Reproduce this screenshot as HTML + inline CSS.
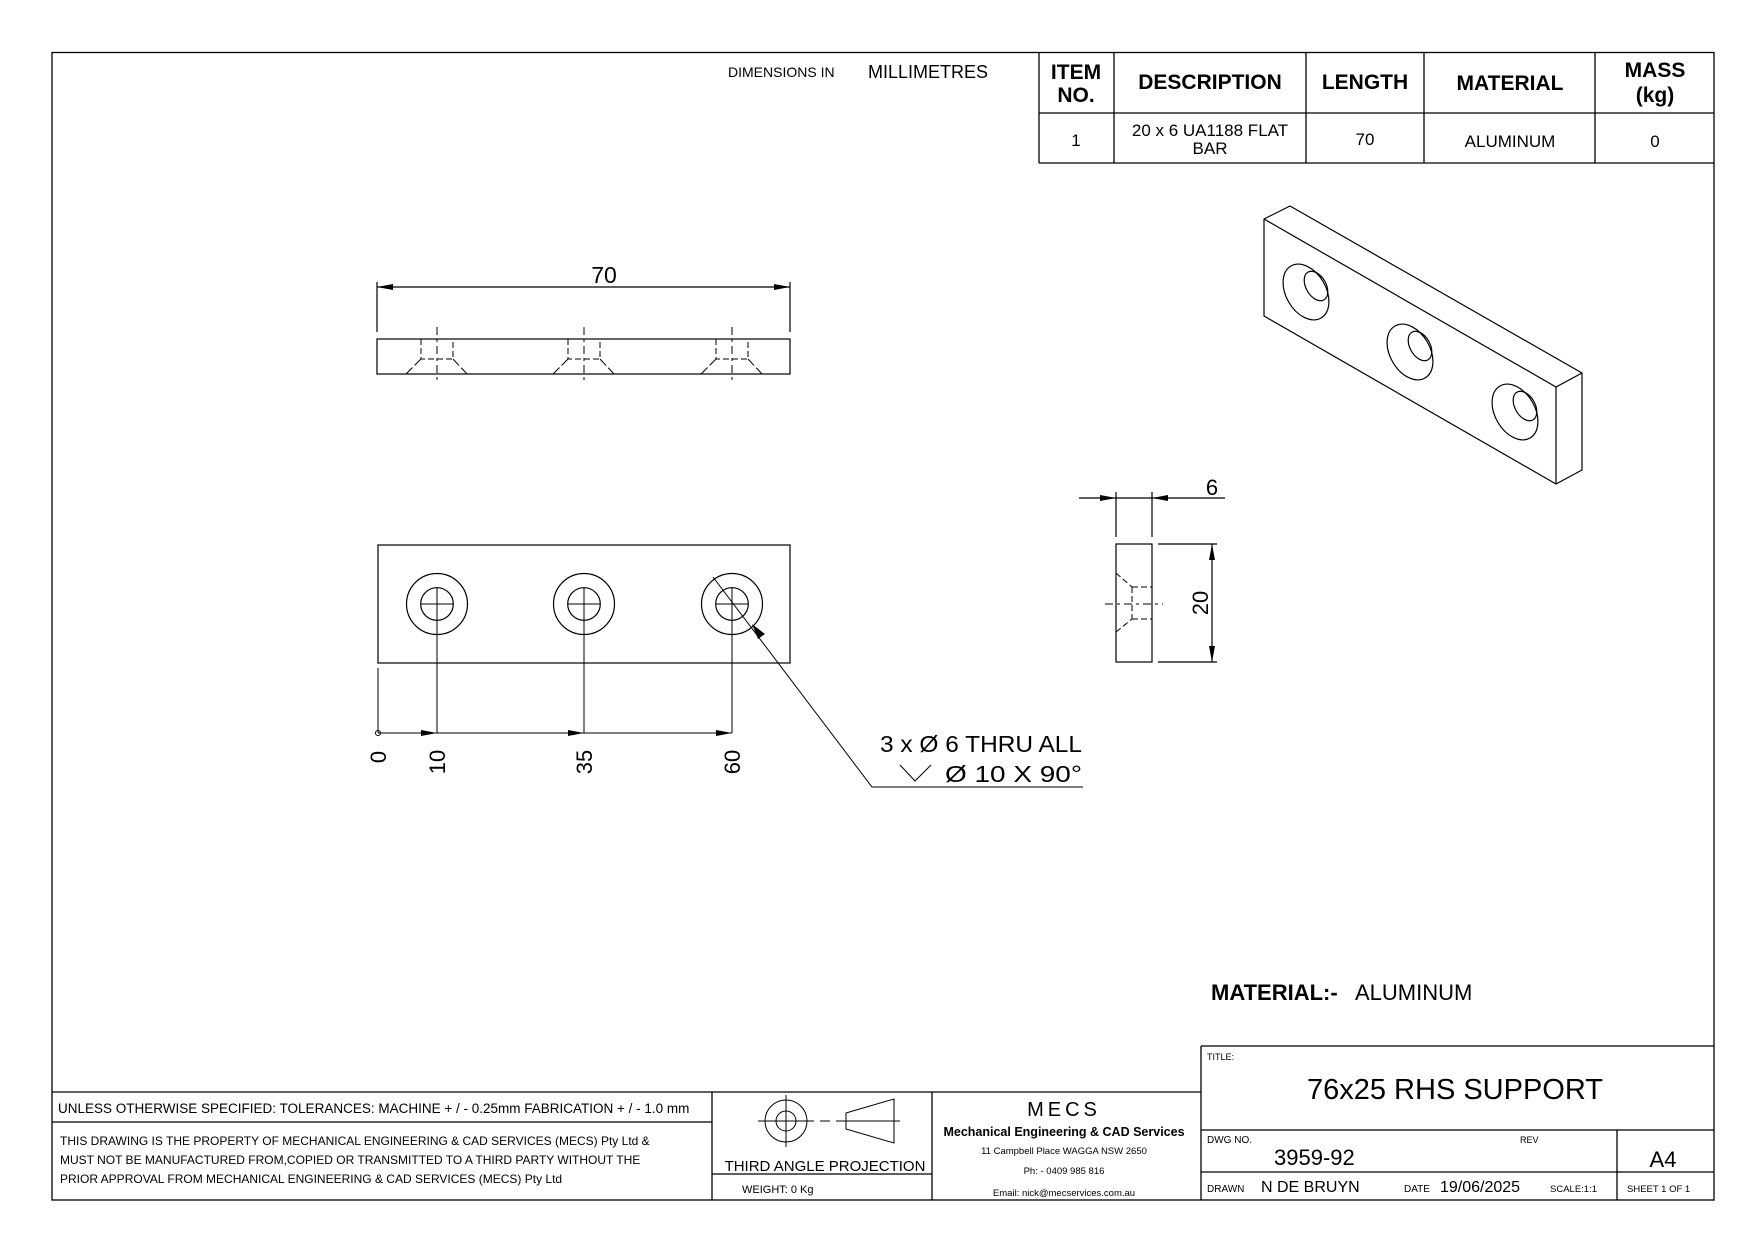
<!DOCTYPE html>
<html><head><meta charset="utf-8"><style>
html,body{margin:0;padding:0;background:#fff;}
svg{display:block}
text{font-family:"Liberation Sans",sans-serif;fill:#000}
</style></head><body>
<svg width="1753" height="1240" viewBox="0 0 1753 1240" xmlns="http://www.w3.org/2000/svg">
<g fill="none" stroke="#000" stroke-width="1.3">
<rect x="52" y="52.5" width="1662" height="1147.5"/>
<line x1="1039" y1="52.5" x2="1039" y2="163"/>
<line x1="1114" y1="52.5" x2="1114" y2="163"/>
<line x1="1306" y1="52.5" x2="1306" y2="163"/>
<line x1="1424" y1="52.5" x2="1424" y2="163"/>
<line x1="1595" y1="52.5" x2="1595" y2="163"/>
<line x1="1039" y1="113" x2="1714" y2="113"/>
<line x1="1039" y1="163" x2="1714" y2="163"/>
<line x1="1201" y1="1046" x2="1714" y2="1046"/>
<line x1="1201" y1="1046" x2="1201" y2="1200"/>
<line x1="52" y1="1092" x2="1201" y2="1092"/>
<line x1="52" y1="1122" x2="712" y2="1122"/>
<line x1="712" y1="1092" x2="712" y2="1200"/>
<line x1="932" y1="1092" x2="932" y2="1200"/>
<line x1="712" y1="1174" x2="932" y2="1174"/>
<line x1="1201" y1="1130" x2="1714" y2="1130"/>
<line x1="1201" y1="1172" x2="1714" y2="1172"/>
<line x1="1617" y1="1130" x2="1617" y2="1200"/>
</g>
<g stroke="#000" stroke-width="1" fill="none">
<circle cx="786" cy="1121" r="21"/>
<circle cx="786" cy="1121" r="10"/>
<line x1="758" y1="1121" x2="814" y2="1121"/>
<line x1="786" y1="1095" x2="786" y2="1147"/>
<line x1="820" y1="1121" x2="830" y2="1121"/>
<line x1="836" y1="1121" x2="900" y2="1121"/>
<polygon points="846,1113 894,1099 894,1143 846,1129"/>
</g>
<g font-weight="bold" font-size="21" text-anchor="middle">
<text x="1076" y="79">ITEM</text><text x="1076" y="102">NO.</text>
<text x="1210" y="89">DESCRIPTION</text>
<text x="1365" y="89">LENGTH</text>
<text x="1510" y="90">MATERIAL</text>
<text x="1655" y="77">MASS</text><text x="1655" y="102">(kg)</text>
</g>
<g font-size="17" text-anchor="middle">
<text x="1076" y="146">1</text>
<text x="1210" y="136">20 x 6 UA1188 FLAT</text><text x="1210" y="154">BAR</text>
<text x="1365" y="145">70</text>
<text x="1510" y="147">ALUMINUM</text>
<text x="1655" y="147">0</text>
</g>
<text x="728" y="77" font-size="14">DIMENSIONS IN</text>
<text x="868" y="78" font-size="18">MILLIMETRES</text>

<g stroke="#000" stroke-width="1.2" fill="none">
<rect x="377" y="339" width="413" height="35"/>
<line x1="377" y1="282" x2="377" y2="332"/>
<line x1="790" y1="282" x2="790" y2="332"/>
<line x1="377" y1="287" x2="790" y2="287"/>
</g>
<polygon points="377,287 393,284 393,290"/><polygon points="790,287 774,284 774,290"/>
<text x="604" y="283" font-size="23" text-anchor="middle">70</text>
<g stroke="#000" stroke-width="1" fill="none" stroke-dasharray="6,3">
<path d="M421,339V359H453V339 M568,339V359H600V339 M716,339V359H748V339"/>
<path d="M437,327V384 M584,327V384 M732,327V384" stroke-dasharray="8,4,3,4"/>
</g>
<g stroke="#000" stroke-width="1" stroke-dasharray="9,3">
<path d="M421,359L406,374 M453,359L467,374 M568,359L553,374 M600,359L614,374 M716,359L701,374 M748,359L762,374"/>
</g>

<g stroke="#000" stroke-width="1.2" fill="none">
<rect x="378" y="545" width="412" height="118"/>
<circle cx="437" cy="604" r="30.5"/><circle cx="437" cy="604" r="16.3"/>
<circle cx="584" cy="604" r="30.5"/><circle cx="584" cy="604" r="16.3"/>
<circle cx="732" cy="604" r="30.5"/><circle cx="732" cy="604" r="16.3"/>
</g>
<g stroke="#000" stroke-width="1" fill="none">
<path d="M421,604H453 M437,588V733 M568,604H600 M584,588V733 M716,604H748 M732,588V733"/>
<path d="M378,668V733 M378,733H732"/>
<circle cx="378" cy="733" r="2.5"/>
<path d="M713,577L872,787H1083"/>
<path d="M900,765L915,781L931,765"/>
</g>
<polygon points="437,733 421,730 421,736"/><polygon points="584,733 568,730 568,736"/><polygon points="732,733 716,730 716,736"/>
<polygon points="752,624 765,634 758,639"/>
<g font-size="22" text-anchor="middle">
<text transform="translate(386,757) rotate(-90)">0</text>
<text transform="translate(445,762) rotate(-90)">10</text>
<text transform="translate(592,762) rotate(-90)">35</text>
<text transform="translate(740,762) rotate(-90)">60</text>
</g>
<text x="880" y="752" font-size="23" textLength="202" lengthAdjust="spacingAndGlyphs">3 x Ø 6 THRU ALL</text>
<text x="945" y="782" font-size="23" textLength="137" lengthAdjust="spacingAndGlyphs">Ø 10 X 90°</text>

<g stroke="#000" stroke-width="1.2" fill="none">
<rect x="1116" y="544" width="36" height="118"/>
<path d="M1116,492V537 M1152,492V537 M1079,498H1225"/>
<path d="M1158,544H1217 M1158,662H1217 M1212,544V662"/>
</g>
<polygon points="1116,498 1100,495 1100,501"/><polygon points="1152,498 1168,495 1168,501"/>
<polygon points="1212,544 1209,560 1215,560"/><polygon points="1212,662 1209,646 1215,646"/>
<text x="1212" y="495" font-size="22" text-anchor="middle">6</text>
<text transform="translate(1208,603) rotate(-90)" font-size="22" text-anchor="middle">20</text>
<g stroke="#000" stroke-width="1" fill="none" stroke-dasharray="6,3">
<path d="M1116,573L1132,587 M1116,632L1132,619"/>
<path d="M1132,587V619 M1132,587H1152 M1132,619H1152"/>
<path d="M1105,604H1163" stroke-dasharray="8,4,3,4"/>
</g>

<g stroke="#000" stroke-width="1.2" fill="none" stroke-linejoin="round">
<path d="M1264,219L1290,206L1582,373L1556,387Z"/>
<path d="M1264,219V316L1556,484V387"/>
<path d="M1556,484L1582,470V373"/>
<ellipse cx="1306" cy="292" rx="20" ry="30" transform="rotate(-30 1306 292)"/>
<ellipse cx="1316" cy="286" rx="10" ry="16" transform="rotate(-30 1316 286)"/>
<ellipse cx="1410" cy="352" rx="20" ry="30" transform="rotate(-30 1410 352)"/>
<ellipse cx="1420" cy="346" rx="10" ry="16" transform="rotate(-30 1420 346)"/>
<ellipse cx="1515" cy="412" rx="20" ry="30" transform="rotate(-30 1515 412)"/>
<ellipse cx="1525" cy="406" rx="10" ry="16" transform="rotate(-30 1525 406)"/>
</g>

<text x="1211" y="1000" font-size="22" font-weight="bold">MATERIAL:-</text>
<text x="1355" y="1000" font-size="22">ALUMINUM</text>

<text x="58" y="1113" font-size="13.5">UNLESS OTHERWISE SPECIFIED: TOLERANCES: MACHINE + / - 0.25mm  FABRICATION + / - 1.0 mm</text>
<text x="60" y="1145" font-size="12">THIS DRAWING IS THE PROPERTY OF MECHANICAL ENGINEERING &amp; CAD SERVICES (MECS) Pty Ltd &amp;</text>
<text x="60" y="1164" font-size="12">MUST NOT BE MANUFACTURED FROM,COPIED OR TRANSMITTED TO A THIRD PARTY WITHOUT THE</text>
<text x="60" y="1183" font-size="12">PRIOR APPROVAL FROM MECHANICAL ENGINEERING &amp; CAD SERVICES (MECS) Pty Ltd</text>
<text x="825" y="1171" font-size="15" text-anchor="middle">THIRD ANGLE PROJECTION</text>
<text x="742" y="1193" font-size="11">WEIGHT: 0 Kg</text>
<text x="1064" y="1116" font-size="20" text-anchor="middle" letter-spacing="4">MECS</text>
<text x="1064" y="1136" font-size="12.5" font-weight="bold" text-anchor="middle">Mechanical Engineering &amp; CAD Services</text>
<text x="1064" y="1154" font-size="9.5" text-anchor="middle">11 Campbell Place WAGGA NSW 2650</text>
<text x="1064" y="1174" font-size="9.5" text-anchor="middle">Ph: - 0409 985 816</text>
<text x="1064" y="1196" font-size="9.5" text-anchor="middle">Email: nick@mecservices.com.au</text>
<text x="1207" y="1060" font-size="9">TITLE:</text>
<text x="1455" y="1099" font-size="29" text-anchor="middle">76x25 RHS SUPPORT</text>
<text x="1207" y="1143" font-size="10">DWG NO.</text>
<text x="1274" y="1165" font-size="22">3959-92</text>
<text x="1520" y="1143" font-size="9">REV</text>
<text x="1663" y="1167" font-size="22" text-anchor="middle">A4</text>
<text x="1207" y="1192" font-size="10">DRAWN</text>
<text x="1261" y="1192" font-size="16">N DE BRUYN</text>
<text x="1404" y="1192" font-size="10">DATE</text>
<text x="1440" y="1192" font-size="16">19/06/2025</text>
<text x="1550" y="1192" font-size="9.5">SCALE:1:1</text>
<text x="1627" y="1192" font-size="9.5">SHEET 1 OF 1</text>
</svg>
</body></html>
